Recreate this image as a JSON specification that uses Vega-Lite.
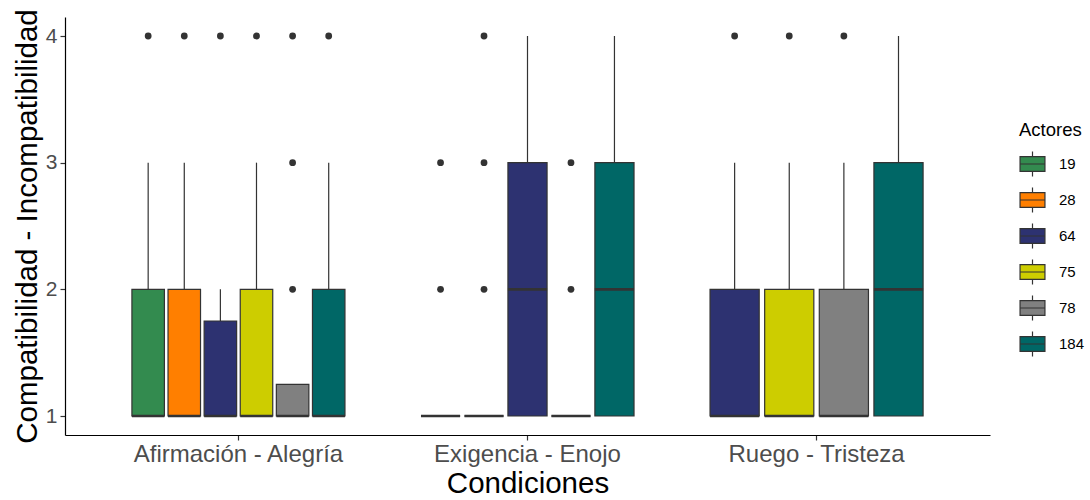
{
  "$schema": "https://vega.github.io/schema/vega-lite/v6.json",
  "width": 925,
  "height": 418,
  "autosize": "none",
  "padding": {"left": 65, "top": 17, "right": 100, "bottom": 65},
  "background": "white",
  "datasets": {
    "boxes": [
      {"cond": "Afirmación - Alegría", "actor": 19, "q1": 1, "median": 1, "q3": 2, "upper": 3},
      {"cond": "Afirmación - Alegría", "actor": 28, "q1": 1, "median": 1, "q3": 2, "upper": 3},
      {"cond": "Afirmación - Alegría", "actor": 64, "q1": 1, "median": 1, "q3": 1.75, "upper": 2},
      {"cond": "Afirmación - Alegría", "actor": 75, "q1": 1, "median": 1, "q3": 2, "upper": 3},
      {"cond": "Afirmación - Alegría", "actor": 78, "q1": 1, "median": 1, "q3": 1.25, "upper": 1.25},
      {"cond": "Afirmación - Alegría", "actor": 184, "q1": 1, "median": 1, "q3": 2, "upper": 3},
      {"cond": "Exigencia - Enojo", "actor": 19, "q1": 1, "median": 1, "q3": 1, "upper": 1},
      {"cond": "Exigencia - Enojo", "actor": 28, "q1": 1, "median": 1, "q3": 1, "upper": 1},
      {"cond": "Exigencia - Enojo", "actor": 64, "q1": 1, "median": 2, "q3": 3, "upper": 4},
      {"cond": "Exigencia - Enojo", "actor": 75, "q1": 1, "median": 1, "q3": 1, "upper": 1},
      {"cond": "Exigencia - Enojo", "actor": 184, "q1": 1, "median": 2, "q3": 3, "upper": 4},
      {"cond": "Ruego - Tristeza", "actor": 64, "q1": 1, "median": 1, "q3": 2, "upper": 3},
      {"cond": "Ruego - Tristeza", "actor": 75, "q1": 1, "median": 1, "q3": 2, "upper": 3},
      {"cond": "Ruego - Tristeza", "actor": 78, "q1": 1, "median": 1, "q3": 2, "upper": 3},
      {"cond": "Ruego - Tristeza", "actor": 184, "q1": 1, "median": 2, "q3": 3, "upper": 4}
    ],
    "outliers": [
      {"cond": "Afirmación - Alegría", "actor": 19, "value": 4},
      {"cond": "Afirmación - Alegría", "actor": 28, "value": 4},
      {"cond": "Afirmación - Alegría", "actor": 64, "value": 4},
      {"cond": "Afirmación - Alegría", "actor": 75, "value": 4},
      {"cond": "Afirmación - Alegría", "actor": 78, "value": 2},
      {"cond": "Afirmación - Alegría", "actor": 78, "value": 3},
      {"cond": "Afirmación - Alegría", "actor": 78, "value": 4},
      {"cond": "Afirmación - Alegría", "actor": 184, "value": 4},
      {"cond": "Exigencia - Enojo", "actor": 19, "value": 2},
      {"cond": "Exigencia - Enojo", "actor": 19, "value": 3},
      {"cond": "Exigencia - Enojo", "actor": 28, "value": 2},
      {"cond": "Exigencia - Enojo", "actor": 28, "value": 3},
      {"cond": "Exigencia - Enojo", "actor": 28, "value": 4},
      {"cond": "Exigencia - Enojo", "actor": 75, "value": 2},
      {"cond": "Exigencia - Enojo", "actor": 75, "value": 3},
      {"cond": "Ruego - Tristeza", "actor": 64, "value": 4},
      {"cond": "Ruego - Tristeza", "actor": 75, "value": 4},
      {"cond": "Ruego - Tristeza", "actor": 78, "value": 4}
    ]
  },
  "config": {
    "view": {"stroke": null},
    "font": "Liberation Sans",
    "axis": {
      "grid": false,
      "domainColor": "black",
      "domainWidth": 1.2,
      "tickColor": "#333333",
      "tickWidth": 1.2,
      "tickSize": 5,
      "labelColor": "#4D4D4D",
      "labelLimit": 0,
      "titleColor": "black",
      "titleFontWeight": "normal"
    }
  },
  "encoding": {
    "x": {
      "field": "cond",
      "type": "nominal",
      "sort": ["Afirmación - Alegría", "Exigencia - Enojo", "Ruego - Tristeza"],
      "scale": {"paddingInner": 0.263, "paddingOuter": 0.2315},
      "axis": {
        "title": "Condiciones",
        "labelAngle": 0,
        "labelFontSize": 24,
        "labelPadding": 2,
        "labelLimit": 0,
        "titleFontSize": 29.5,
        "titleBaseline": "alphabetic",
        "titleY": 57
      }
    }
  },
  "layer": [
    {
      "layer": [
        {
          "data": {"name": "boxes"},
          "transform": [{"filter": "datum.cond === 'Afirmación - Alegría'"}],
          "mark": {"type": "rule", "color": "#333333", "strokeWidth": 1.2},
          "encoding": {
            "xOffset": {"field": "actor", "type": "ordinal", "sort": "ascending", "scale": {"paddingInner": 0.1, "paddingOuter": 0}},
            "y": {"field": "q3", "type": "quantitative", "scale": {"domain": [0.85, 4.15], "nice": false, "zero": false}, "axis": {"title": "Compatibilidad - Incompatibilidad", "values": [1, 2, 3, 4], "format": "d", "labelFontSize": 21, "labelPadding": 3, "titleFontSize": 29.5, "titleAngle": -90, "titleBaseline": "alphabetic", "titleAlign": "center", "titleX": -28.5, "titleY": 209}},
            "y2": {"field": "upper"}
          }
        },
        {
          "data": {"name": "boxes"},
          "transform": [{"filter": "datum.cond === 'Afirmación - Alegría'"}],
          "mark": {"type": "bar", "stroke": "#333333", "strokeWidth": 1.2},
          "encoding": {
            "xOffset": {"field": "actor", "type": "ordinal", "sort": "ascending", "scale": {"paddingInner": 0.1, "paddingOuter": 0}},
            "y": {"field": "q1", "type": "quantitative"},
            "y2": {"field": "q3"},
            "color": {"field": "actor", "type": "nominal", "title": "Actores",
              "scale": {"domain": [19, 28, 64, 75, 78, 184], "range": ["#338B4F", "#FF7F00", "#2D3271", "#CDCD00", "#808080", "#006766"]},
              "legend": {"orient": "none", "legendX": 954, "legendY": 104, "padding": 0,
                "symbolType": "M-1,-0.6H1V0.6H-1Z M-1,0H1 M0,-0.6V-1 M0,0.6V1",
                "symbolSize": 620, "symbolStrokeColor": "#333333", "symbolStrokeWidth": 1.2, "symbolOpacity": 1,
                "titleFontSize": 18.5, "titleFontWeight": "normal", "titleColor": "black", "titlePadding": 11,
                "labelFontSize": 15, "labelColor": "black", "labelOffset": 13, "rowPadding": 5}}
          }
        },
        {
          "data": {"name": "boxes"},
          "transform": [{"filter": "datum.cond === 'Afirmación - Alegría'"}],
          "mark": {"type": "bar", "stroke": "#333333", "strokeWidth": 2.6, "fill": null, "fillOpacity": 0},
          "encoding": {
            "xOffset": {"field": "actor", "type": "ordinal", "sort": "ascending", "scale": {"paddingInner": 0.1, "paddingOuter": 0}},
            "y": {"field": "median", "type": "quantitative"},
            "y2": {"field": "median"}
          }
        },
        {
          "data": {"name": "outliers"},
          "transform": [{"filter": "datum.cond === 'Afirmación - Alegría'"}],
          "mark": {"type": "circle", "color": "#333333", "size": 46, "opacity": 1},
          "encoding": {
            "xOffset": {"field": "actor", "type": "ordinal", "sort": "ascending", "scale": {"paddingInner": 0.1, "paddingOuter": 0}},
            "y": {"field": "value", "type": "quantitative"}
          }
        }
      ]
    },
    {
      "layer": [
        {
          "data": {"name": "boxes"},
          "transform": [{"filter": "datum.cond === 'Exigencia - Enojo'"}],
          "mark": {"type": "rule", "color": "#333333", "strokeWidth": 1.2},
          "encoding": {
            "xOffset": {"field": "actor", "type": "ordinal", "sort": "ascending", "scale": {"paddingInner": 0.1, "paddingOuter": 0}},
            "y": {"field": "q3", "type": "quantitative"},
            "y2": {"field": "upper"}
          }
        },
        {
          "data": {"name": "boxes"},
          "transform": [{"filter": "datum.cond === 'Exigencia - Enojo'"}],
          "mark": {"type": "bar", "stroke": "#333333", "strokeWidth": 1.2},
          "encoding": {
            "xOffset": {"field": "actor", "type": "ordinal", "sort": "ascending", "scale": {"paddingInner": 0.1, "paddingOuter": 0}},
            "y": {"field": "q1", "type": "quantitative"},
            "y2": {"field": "q3"},
            "color": {"field": "actor", "type": "nominal", "title": "Actores"}
          }
        },
        {
          "data": {"name": "boxes"},
          "transform": [{"filter": "datum.cond === 'Exigencia - Enojo'"}],
          "mark": {"type": "bar", "stroke": "#333333", "strokeWidth": 2.6, "fill": null, "fillOpacity": 0},
          "encoding": {
            "xOffset": {"field": "actor", "type": "ordinal", "sort": "ascending", "scale": {"paddingInner": 0.1, "paddingOuter": 0}},
            "y": {"field": "median", "type": "quantitative"},
            "y2": {"field": "median"}
          }
        },
        {
          "data": {"name": "outliers"},
          "transform": [{"filter": "datum.cond === 'Exigencia - Enojo'"}],
          "mark": {"type": "circle", "color": "#333333", "size": 46, "opacity": 1},
          "encoding": {
            "xOffset": {"field": "actor", "type": "ordinal", "sort": "ascending", "scale": {"paddingInner": 0.1, "paddingOuter": 0}},
            "y": {"field": "value", "type": "quantitative"}
          }
        }
      ]
    },
    {
      "layer": [
        {
          "data": {"name": "boxes"},
          "transform": [{"filter": "datum.cond === 'Ruego - Tristeza'"}],
          "mark": {"type": "rule", "color": "#333333", "strokeWidth": 1.2},
          "encoding": {
            "xOffset": {"field": "actor", "type": "ordinal", "sort": "ascending", "scale": {"paddingInner": 0.1, "paddingOuter": 0}},
            "y": {"field": "q3", "type": "quantitative"},
            "y2": {"field": "upper"}
          }
        },
        {
          "data": {"name": "boxes"},
          "transform": [{"filter": "datum.cond === 'Ruego - Tristeza'"}],
          "mark": {"type": "bar", "stroke": "#333333", "strokeWidth": 1.2},
          "encoding": {
            "xOffset": {"field": "actor", "type": "ordinal", "sort": "ascending", "scale": {"paddingInner": 0.1, "paddingOuter": 0}},
            "y": {"field": "q1", "type": "quantitative"},
            "y2": {"field": "q3"},
            "color": {"field": "actor", "type": "nominal", "title": "Actores"}
          }
        },
        {
          "data": {"name": "boxes"},
          "transform": [{"filter": "datum.cond === 'Ruego - Tristeza'"}],
          "mark": {"type": "bar", "stroke": "#333333", "strokeWidth": 2.6, "fill": null, "fillOpacity": 0},
          "encoding": {
            "xOffset": {"field": "actor", "type": "ordinal", "sort": "ascending", "scale": {"paddingInner": 0.1, "paddingOuter": 0}},
            "y": {"field": "median", "type": "quantitative"},
            "y2": {"field": "median"}
          }
        },
        {
          "data": {"name": "outliers"},
          "transform": [{"filter": "datum.cond === 'Ruego - Tristeza'"}],
          "mark": {"type": "circle", "color": "#333333", "size": 46, "opacity": 1},
          "encoding": {
            "xOffset": {"field": "actor", "type": "ordinal", "sort": "ascending", "scale": {"paddingInner": 0.1, "paddingOuter": 0}},
            "y": {"field": "value", "type": "quantitative"}
          }
        }
      ]
    }
  ],
  "resolve": {"scale": {"xOffset": "independent"}}
}
